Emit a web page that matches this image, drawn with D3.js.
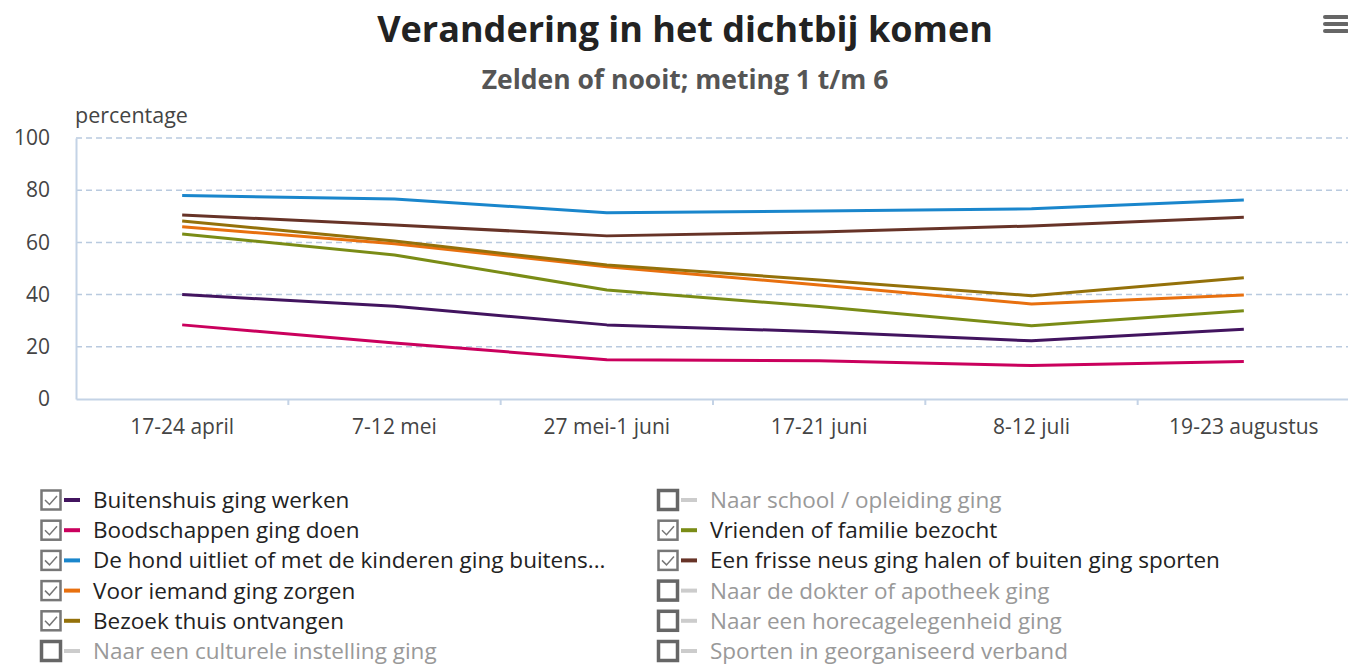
<!DOCTYPE html>
<html>
<head>
<meta charset="utf-8">
<script src="https://cdn.jsdelivr.net/npm/d3@7/dist/d3.min.js"></script>
<style>
  body { margin: 0; background: #fff; font-family: "Open Sans", sans-serif; }
</style>
</head>
<body>
<div id="container"></div>
<script>
const categories = ["17-24 april", "7-12 mei", "27 mei-1 juni", "17-21 juni", "8-12 juli", "19-23 augustus"];
const yTicks = [0, 20, 40, 60, 80, 100];

// zelden of nooit, percentage per meting
const werken = [40, 35.5, 28.4, 25.8, 22.3, 26.7];
const boodschappen = [28.4, 21.5, 15, 14.7, 12.8, 14.4];
const hond = [78, 76.6, 71.4, 72, 72.9, 76.2];
const zorgen = [66, 59.5, 50.7, 43.7, 36.4, 39.8];
const bezoek = [68.2, 60.5, 51.3, 45.6, 39.6, 46.5];
const vrienden = [63.2, 55.2, 41.8, 35.4, 28.1, 33.8];
const frisseNeus = [70.5, 66.7, 62.5, 64, 66.3, 69.6];

const seriesNames = [
  "Buitenshuis ging werken", "Boodschappen ging doen",
  "De hond uitliet of met de kinderen ging buitens...", "Voor iemand ging zorgen",
  "Bezoek thuis ontvangen", "Naar een culturele instelling ging",
  "Naar school / opleiding ging", "Vrienden of familie bezocht",
  "Een frisse neus ging halen of buiten ging sporten", "Naar de dokter of apotheek ging",
  "Naar een horecagelegenheid ging", "Sporten in georganiseerd verband"
];
const seriesValues = [werken, boodschappen, hond, zorgen, bezoek, null, null, vrienden, frisseNeus, null, null, null];
const seriesColors = ["#42145f", "#ca005d", "#1a86cc", "#e8700f", "#94710a", "#cccccc",
  "#cccccc", "#7a8c16", "#673327", "#cccccc", "#cccccc", "#cccccc"];

const width = 1348, height = 666;
const margin = {top: 138, right: 0, bottom: 267, left: 76};

const svg = d3.select("#container")
  .append("svg")
  .attr("width", width)
  .attr("height", height);

const x = d3.scaleBand()
  .domain(categories)
  .range([margin.left, width + 2]);

const y = d3.scaleLinear()
  .domain([0, 100])
  .range([height - margin.bottom, margin.top]);

// titles
svg.append("text")
  .attr("x", 685)
  .attr("y", 42)
  .attr("text-anchor", "middle")
  .style("font-size", "36px")
  .style("font-weight", "bold")
  .style("fill", "#222")
  .text("Verandering in het dichtbij komen");

svg.append("text")
  .attr("x", 685)
  .attr("y", 89)
  .attr("text-anchor", "middle")
  .style("font-size", "26.5px")
  .style("font-weight", "bold")
  .style("fill", "#555")
  .text("Zelden of nooit; meting 1 t/m 6");

// menu icon
const menu = svg.append("g").attr("transform", "translate(1323,15)");
[0, 7, 14].forEach(function(d) {
  menu.append("rect")
    .attr("x", 0).attr("y", d)
    .attr("width", 26).attr("height", 4)
    .attr("rx", 2)
    .style("fill", "#666");
});

// grid
svg.append("g")
  .selectAll("line")
  .data(yTicks.filter(function(d) { return d > 0; }))
  .join("line")
  .attr("x1", margin.left)
  .attr("x2", width)
  .attr("y1", function(d) { return y(d); })
  .attr("y2", function(d) { return y(d); })
  .style("stroke", "#b9cadf")
  .style("stroke-width", 1.5)
  .style("stroke-dasharray", "6,4");

// y axis
const yAxis = svg.append("g")
  .attr("transform", `translate(${margin.left},0)`)
  .call(d3.axisLeft(y).tickValues(yTicks).tickSize(0).tickPadding(26));
yAxis.select(".domain").style("stroke", "#c4d3e6").style("stroke-width", 2);
yAxis.selectAll("text")
  .style("font-family", "Open Sans")
  .style("font-size", "21px")
  .style("fill", "#444");

svg.append("text")
  .attr("x", 75)
  .attr("y", 123)
  .style("font-size", "21.5px")
  .style("fill", "#444")
  .text("percentage");

// x axis
const xAxis = svg.append("g")
  .attr("transform", `translate(0,${y(0)})`)
  .call(d3.axisBottom(x).tickSize(0).tickPadding(20));
xAxis.select(".domain").style("stroke", "#c4d3e6").style("stroke-width", 2);
xAxis.selectAll("text")
  .style("font-family", "Open Sans")
  .style("font-size", "21px")
  .style("fill", "#444");

xAxis.append("g")
  .selectAll("line")
  .data(categories.slice(1))
  .join("line")
  .attr("x1", function(d) { return x(d); })
  .attr("x2", function(d) { return x(d); })
  .attr("y1", 0)
  .attr("y2", 6)
  .style("stroke", "#c4d3e6")
  .style("stroke-width", 2);

// lines
const line = d3.line()
  .x(function(d, i) { return x(categories[i]) + x.bandwidth() / 2; })
  .y(function(d) { return y(d); });

seriesValues.forEach(function(vals, i) {
  if (!vals) return;
  svg.append("path")
    .datum(vals)
    .attr("fill", "none")
    .attr("stroke", seriesColors[i])
    .attr("stroke-width", 3)
    .attr("stroke-linejoin", "round")
    .attr("d", line);
});

// legend
const legend = svg.append("g");
seriesNames.forEach(function(name, i) {
  const col = i < 6 ? 0 : 1;
  const row = i % 6;
  const lx = col === 0 ? 40 : 657;
  const ly = 500 + row * 30.2;
  const visible = seriesValues[i] !== null;
  const g = legend.append("g").attr("transform", `translate(${lx},${ly})`);

  g.append("rect")
    .attr("x", 1.5).attr("y", -9.5)
    .attr("width", 19).attr("height", 19)
    .style("fill", "#fff")
    .style("stroke", visible ? "#777" : "#666")
    .style("stroke-width", visible ? 2.5 : 3.5);

  if (visible) {
    g.append("path")
      .attr("d", "M5,0 L9.5,4.5 L17,-4")
      .style("fill", "none")
      .style("stroke", "#777")
      .style("stroke-width", 1.5);
  }

  g.append("line")
    .attr("x1", 24).attr("x2", 40)
    .attr("y1", 0).attr("y2", 0)
    .style("stroke", seriesColors[i])
    .style("stroke-width", 4);

  g.append("text")
    .attr("x", 53)
    .attr("y", 8)
    .style("font-size", "22.5px")
    .style("fill", visible ? "#222" : "#999")
    .text(name);
});
</script>
</body>
</html>
